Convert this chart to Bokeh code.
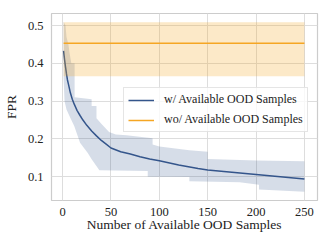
from bokeh.plotting import figure
from bokeh.models import Legend, LegendItem, FixedTicker, Range1d
from bokeh.embed import file_html
from bokeh.resources import INLINE

# ---- data ----
x_line = [1, 2, 3, 4, 5, 6, 8, 10, 12, 15, 18, 21, 25, 30, 35, 40, 45, 50,
          60, 70, 80, 90, 100, 120, 140, 150, 175, 200, 225, 250]
y_line = [0.433, 0.41, 0.39, 0.372, 0.356, 0.345, 0.322, 0.305, 0.292, 0.275,
          0.262, 0.25, 0.236, 0.221, 0.208, 0.196, 0.186, 0.176,
          0.166, 0.160, 0.153, 0.147, 0.142, 0.131, 0.122, 0.118, 0.112,
          0.106, 0.100, 0.094]

x_up = [1, 3, 4, 6, 7, 9, 12.4, 12.4, 30, 30, 35, 35, 40, 48, 55, 66, 93, 93,
        100, 131, 150, 150, 200, 250]
y_up = [0.51, 0.50, 0.47, 0.45, 0.43, 0.40, 0.40, 0.31, 0.305, 0.287, 0.287,
        0.255, 0.24, 0.218, 0.212, 0.210, 0.202, 0.185,
        0.180, 0.170, 0.166, 0.147, 0.143, 0.141]

x_lo = [1, 2, 4, 9, 12, 18, 26, 30, 38, 88, 88, 131, 131, 183, 203, 203, 250]
y_lo = [0.36, 0.30, 0.278, 0.25, 0.234, 0.19, 0.163, 0.146, 0.117, 0.115,
        0.100, 0.099, 0.088, 0.085, 0.079, 0.066, 0.060]

x_wo = [1, 250]
y_wo = [0.453, 0.453]
y_wo_lo = [0.366, 0.366]
y_wo_hi = [0.509, 0.509]

x_ticks = [0, 50, 100, 150, 200, 250]
y_ticks = [0.1, 0.2, 0.3, 0.4, 0.5]

BLUE = "#34558b"
ORANGE = "#f5a623"
FONT = "Liberation Serif"

p = figure(frame_width=266, frame_height=187, output_backend="svg",
           toolbar_location=None,
           x_range=Range1d(-11.5, 263.5), y_range=Range1d(0.037, 0.532),
           min_border_left=43, min_border_right=4, min_border_top=13,
           min_border_bottom=34)

band_x = x_up + x_lo[::-1]
band_y = y_up + y_lo[::-1]
p.patch(band_x, band_y, fill_color=BLUE, fill_alpha=0.2, line_color=None)
r_blue = p.line(x_line, y_line, line_color=BLUE, line_width=1.5)

p.varea(x=x_wo, y1=y_wo_lo, y2=y_wo_hi, fill_color=ORANGE, fill_alpha=0.25)
r_or = p.line(x_wo, y_wo, line_color=ORANGE, line_width=1.5)

p.xaxis.ticker = FixedTicker(ticks=x_ticks)
p.yaxis.ticker = FixedTicker(ticks=y_ticks)
for ax in (p.xaxis, p.yaxis):
    ax.axis_line_color = None
    ax.major_tick_line_color = None
    ax.minor_tick_line_color = None
    ax.major_tick_out = 0
    ax.major_tick_in = 0
    ax.minor_tick_out = 0
    ax.major_label_text_font = FONT
    ax.major_label_text_font_size = "12.5px"
    ax.major_label_text_color = "#222222"
    ax.axis_label_text_font = FONT
    ax.axis_label_text_font_size = "13.5px"
    ax.axis_label_text_font_style = "normal"
    ax.axis_label_text_color = "#222222"
p.xaxis.axis_label = "Number of Available OOD Samples"
p.yaxis.axis_label = "FPR"
p.xaxis.major_label_standoff = 7
p.yaxis.major_label_standoff = 8
p.xaxis.axis_label_standoff = -2
p.yaxis.axis_label_standoff = 6

p.xgrid.grid_line_color = "#dddddd"
p.ygrid.grid_line_color = "#dddddd"
p.xgrid.ticker = FixedTicker(ticks=x_ticks)
p.ygrid.ticker = FixedTicker(ticks=y_ticks)
p.outline_line_color = "#cccccc"
p.outline_line_width = 1.2

legend = Legend(items=[LegendItem(label="w/ Available OOD Samples", renderers=[r_blue]),
                       LegendItem(label="wo/ Available OOD Samples", renderers=[r_or])],
                location=(72, 68))
legend.label_text_font = FONT
legend.label_text_font_size = "12px"
legend.label_text_color = "#222222"
legend.glyph_width = 26
legend.glyph_height = 12
legend.label_height = 12
legend.label_standoff = 10
legend.spacing = 5
legend.padding = 4
legend.margin = 0
legend.border_line_color = "#cccccc"
legend.background_fill_alpha = 0.8
p.add_layout(legend, "center")

open("out.html", "w").write(file_html(p, INLINE))
